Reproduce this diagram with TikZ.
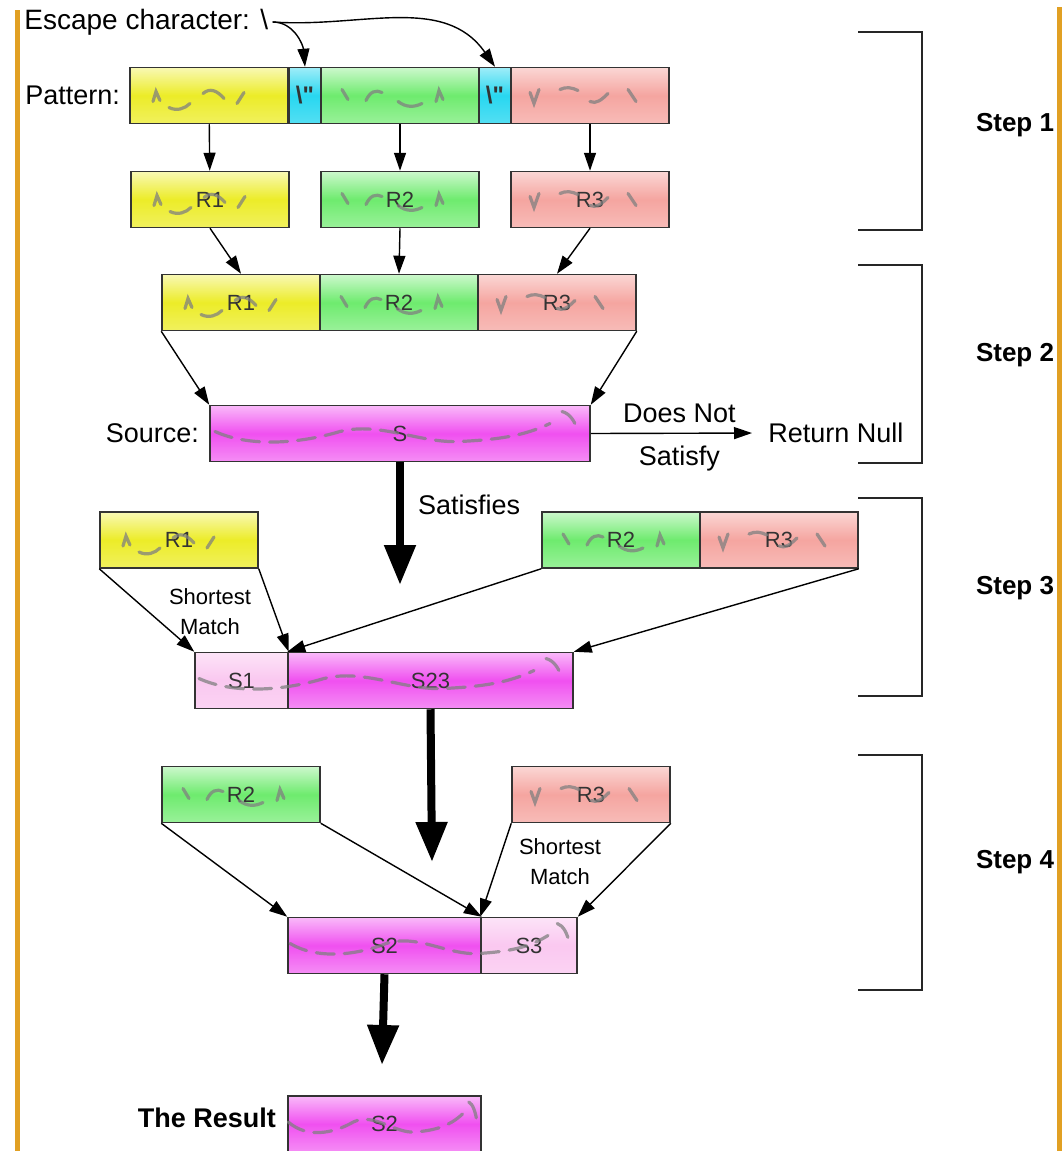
\documentclass[tikz,border=0pt]{standalone}
\usepackage{fontspec}
\setmainfont{Liberation Sans}
\newfontfamily\plainfont{Liberation Sans}
\usetikzlibrary{calc, arrows.meta, positioning}
\tikzstyle{cell}=[draw=black!80, line width=0.75pt, minimum height=28pt,
minimum width=79pt, inner sep=0pt, text=black!80, font=\fontsize{11}{13}\selectfont]
\tikzstyle{ycell}=[cell, top color=myyellow!35!white, bottom color=myyellow!75!white, middle color=myyellow]
\tikzstyle{gcell}=[cell, top color=mygreen!35!white, bottom color=mygreen!70!white, middle color=mygreen]
\tikzstyle{rcell}=[cell, top color=myred!45!white, bottom color=myred!75!white, middle color=myred]
\tikzstyle{ccell}=[cell, minimum width=16pt, top color=mycyan!45!white, bottom color=mycyan!80!white, middle color=mycyan, font=\plainfont\fontsize{12}{14}\selectfont\bfseries]
\tikzstyle{mcell}=[cell, top color=mymagenta!40!white, bottom color=mymagenta!65!white, middle color=mymagenta]
\tikzstyle{pcell}=[cell, top color=mypink!50!white, bottom color=mypink!80!white, middle color=mypink]
\tikzstyle{txt}=[inner sep=0pt, font=\fontsize{13.5}{16}\selectfont]
\tikzstyle{smalltxt}=[inner sep=0pt, align=center, font=\fontsize{11}{15}\selectfont]
\tikzstyle{steplabel}=[inner sep=0pt, font=\fontsize{13}{15}\selectfont\bfseries]
\tikzstyle{link}=[line width=0.7pt, -{Triangle[width=6pt,length=9pt]}]
\tikzstyle{bigarrow}=[line width=4pt, -{Triangle[width=15pt,length=20pt]}]
\tikzstyle{bracket}=[line width=1.2pt, black!85]
\tikzstyle{squig}=[draw=gray, line width=1.6pt, line cap=round, opacity=0.75]
\tikzstyle{wavy}=[squig, dash pattern=on 9pt off 5pt]
\tikzstyle{frame}=[line width=2.5pt, myorange]
\definecolor{myyellow}{RGB}{236,236,40}
\definecolor{mygreen}{RGB}{110,235,110}
\definecolor{myred}{RGB}{245,165,160}
\definecolor{mycyan}{RGB}{40,215,240}
\definecolor{mymagenta}{RGB}{240,80,240}
\definecolor{mypink}{RGB}{250,200,240}
\definecolor{myorange}{RGB}{225,160,35}

% scribbles standing for the strings inside the boxes
\newcommand{\ymarks}[1]{\draw[squig, shift={(#1)}] (-56,6) -- (-53,-4) -- (-49,5)
  (-40,12) .. controls (-32,16) and (-24,13) .. (-19,8)
  (-6,-2) .. controls (1,-8) and (8,-5) .. (15,3)
  (28,8) -- (35,-3);}
\newcommand{\gmarks}[1]{\draw[squig, shift={(#1)}] (-58,-6) -- (-52,4)
  (-34,5) .. controls (-30,-4) and (-24,-6) .. (-18,-3)
  (-2,6) .. controls (6,12) and (14,12) .. (22,8)
  (36,6) -- (39,-5) -- (43,4);}
\newcommand{\rmarks}[1]{\draw[squig, shift={(#1)}] (-60,-3) -- (-56,8) -- (-51,-6)
  (-30,-6) .. controls (-24,-9) and (-18,-8) .. (-12,-5)
  (0,6) .. controls (6,9) and (12,4) .. (18,-2)
  (38,-6) -- (46,6);}
\newcommand{\swave}[2]{\draw[wavy, shift={(#1)}, xscale=#2] (-185,-2) .. controls (-150,14) and (-100,10) .. (-60,-2)
  .. controls (-20,-12) and (20,10) .. (60,8) .. controls (100,6) and (125,2) .. (150,-10)
  (162,-22) .. controls (170,-20) and (175,-12) .. (178,-2);}

\begin{document}
\begin{tikzpicture}[x=0.5pt, y=-0.5pt]
\useasboundingbox (0,0) rectangle (1062,1151);
\draw[frame] (17,10) -- (17,1151);
\draw[frame] (1059,7) -- (1059,1151);

% step 1
\draw (20,22) node [txt, anchor=west, inner sep=2pt, font=\fontsize{14}{16}\selectfont] (esc) {Escape character: \textbackslash};
\draw (209,95.5) node [ycell] (p1) {};
\draw (305,95.5) node [ccell] (e1) {\textbackslash"};
\draw (400,95.5) node [gcell] (p2) {};
\draw (495,95.5) node [ccell] (e2) {\textbackslash"};
\draw (590,95.5) node [rcell] (p3) {};
\node [txt, left=4.5pt of p1] (pat) {Pattern:};
\draw (210,199.5) node [ycell] (r1) {R1};
\draw (400,199.5) node [gcell] (r2) {R2};
\draw (590,199.5) node [rcell] (r3) {R3};

% step 2
\draw (241,302.5) node [ycell] (c1) {R1};
\draw (399,302.5) node [gcell] (c2) {R2};
\draw (557,302.5) node [rcell] (c3) {R3};
\draw (400,433.5) node [mcell, minimum width=190pt] (src) {S};
\node [txt, left=5pt of src] (srclab) {Source:};
\draw (768,433) node [txt, anchor=west] (ret) {Return Null};
\coordinate (sat) at (400,585);

% step 3
\draw (179,540) node [ycell] (a1) {R1};
\draw (621,540) node [gcell] (b2) {R2};
\draw (779,540) node [rcell] (b3) {R3};
\draw (241.5,680.5) node [pcell, minimum width=46.5pt] (s1) {S1};
\draw (430.5,680.5) node [mcell, minimum width=142.5pt] (s23) {S23};
\draw (210,612) node [smalltxt] (sm1) {Shortest\\Match};
\coordinate (down2) at (432,862);

% step 4
\draw (241,794.5) node [gcell] (d2) {R2};
\draw (591,794.5) node [rcell] (d3) {R3};
\draw (384.5,945.5) node [mcell, minimum width=96.5pt] (s2) {S2};
\draw (529,945.5) node [pcell, minimum width=48pt] (s3) {S3};
\draw (560,862) node [smalltxt] (sm2) {Shortest\\Match};
\coordinate (down3) at (382,1065);

% result
\draw (384.5,1124) node [mcell, minimum width=96.5pt] (res) {S2};
\node [txt, font=\fontsize{13.5}{16}\selectfont\bfseries, left=5.5pt of res, yshift=3pt] (reslab) {The Result};

% scribbles
\ymarks{p1.center} \gmarks{p2.center} \rmarks{p3.center}
\ymarks{r1.center} \gmarks{r2.center} \rmarks{r3.center}
\ymarks{c1.center} \gmarks{c2.center} \rmarks{c3.center}
\ymarks{a1.center} \gmarks{b2.center} \rmarks{b3.center}
\gmarks{d2.center} \rmarks{d3.center}
\swave{src.center}{1}
\swave{$(s1.west)!0.5!(s23.east)$}{1}
\swave{$(s2.west)!0.5!(s3.east)$}{0.77}
\swave{res.center}{0.52}

% connectors
\draw[link] (esc.east) to[out=0, in=95] (e1.north);
\draw[link] (esc.east) to[out=-4, in=125] (e2.north);
\draw[link] (p1) -- (r1);
\draw[link] (p2) -- (r2);
\draw[link] (p3) -- (r3);
\draw[link] (r1.south) -- (c1.north);
\draw[link] (r2.south) -- (c2.north);
\draw[link] (r3.south) -- (c3.north);
\draw[link] (c1.south west) -- (src.north west);
\draw[link] (c3.south east) -- (src.north east);
\draw[link, shorten >=8pt] (src.east) -- node[txt, above, inner sep=5pt] {Does Not}
  node[txt, below, inner sep=6pt] {Satisfy} (ret.west);
\draw[bigarrow] (src.south) -- node[txt, pos=0.35, right, inner sep=7pt] {Satisfies} (sat);
\draw[link] (a1.south west) -- (s1.north west);
\draw[link] (a1.south east) -- (s1.north east);
\draw[link] (b2.south west) -- (s23.north west);
\draw[link] (b3.south east) -- (s23.north east);
\draw[bigarrow] (s23.south) -- (down2);
\draw[link] (d2.south west) -- (s2.north west);
\draw[link] (d2.south east) -- (s2.north east);
\draw[link] (d3.south west) -- (s3.north west);
\draw[link] (d3.south east) -- (s3.north east);
\draw[bigarrow] (s2.south) -- (down3);

% steps
\draw[bracket] (858,32) -| (922,230) -- (858,230);
\draw[bracket] (858,265) -| (922,463) -- (858,463);
\draw[bracket] (858,498) -| (922,696) -- (858,696);
\draw[bracket] (858,755) -| (922,990) -- (858,990);
\draw (1015,125) node [steplabel] (st1) {Step 1};
\draw (1015,355) node [steplabel] (st2) {Step 2};
\draw (1015,588) node [steplabel] (st3) {Step 3};
\draw (1015,862) node [steplabel] (st4) {Step 4};
\end{tikzpicture}
\end{document}
